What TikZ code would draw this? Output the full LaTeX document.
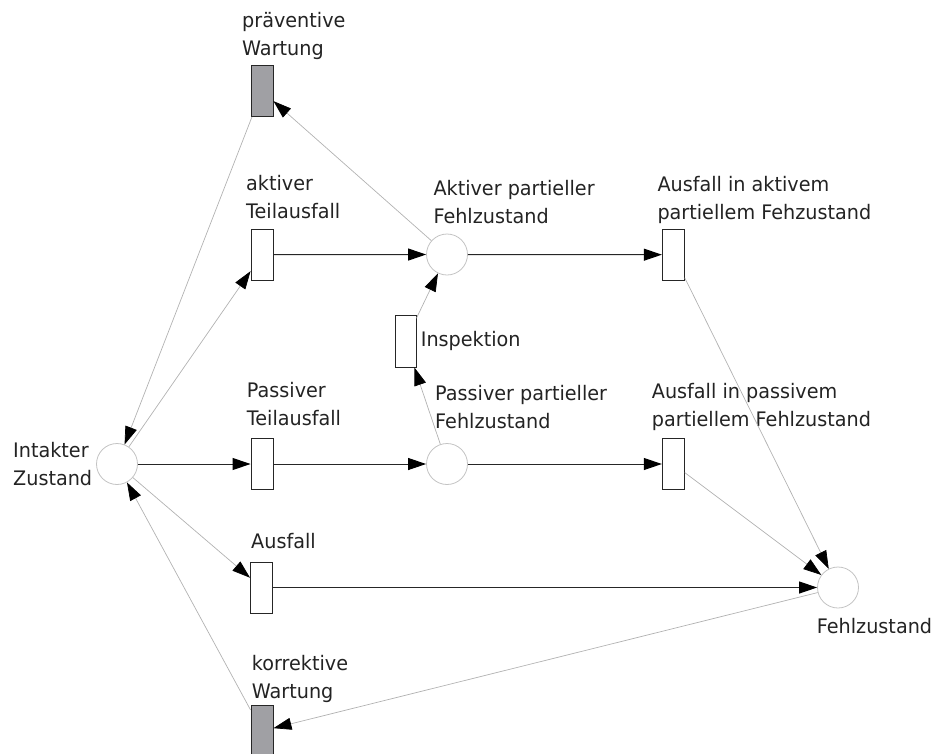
\documentclass[tikz,border=0pt]{standalone}
\usepackage{fontspec}
\setmainfont[FakeStretch=0.96]{DejaVu Sans}
\usetikzlibrary{arrows.meta}

\definecolor{placeline}{RGB}{195,195,195}
\definecolor{arcgray}{RGB}{178,178,178}
\definecolor{maintfill}{RGB}{160,160,164}
\definecolor{labeltext}{RGB}{35,35,35}

\begin{document}
\begin{tikzpicture}[x=1pt,y=-1pt,
  place/.style={circle,draw=placeline,line width=0.8pt,minimum size=41pt,inner sep=0pt},
  trans/.style={rectangle,draw=black!85,line width=0.9pt,minimum width=22pt,minimum height=51pt,inner sep=0pt,fill=white},
  maint/.style={trans,fill=maintfill},
  % anchor "base west" of a two-line label sits on its second baseline
  lbl/.style={anchor=base west,inner sep=0pt,align=left,text=labeltext,font=\fontsize{20}{28}\selectfont},
  arcmain/.style={draw=black!85,line width=1pt,-{Triangle[length=18pt,width=12pt,color=black]}},
  arcthin/.style={draw=arcgray,line width=0.7pt,-{Triangle[length=18pt,width=12pt,color=black]}}]

\useasboundingbox (0,0) rectangle (937,753);
\clip (0,0) rectangle (937,753);

% places
\node[place] (intakt) at (117,464) {};
\node[place] (aktFZ)  at (447,254.5) {};
\node[place] (pasFZ)  at (447,464) {};
\node[place] (fehl)   at (838,587.5) {};

% transitions
\node[maint] (prev)  at (262,91) {};
\node[trans] (aktTA) at (262,254.7) {};
\node[trans] (pasTA) at (262,464) {};
\node[trans] (ausf)  at (261.5,587.5) {};
\node[maint] (korr)  at (262,731) {};
\node[trans,minimum width=21pt,minimum height=52pt] (insp) at (405.5,341) {};
\node[trans] (aAkt)  at (673.3,254.7) {};
\node[trans] (aPas)  at (673.3,464) {};

% labels
\node[lbl] (lprev)   at (242,55.5)   {präventive\\Wartung};
\node[lbl] (laktTA)  at (246,218.3)  {aktiver\\Teilausfall};
\node[lbl] (laktFZ)  at (433.3,223.3){Aktiver partieller\\Fehlzustand};
\node[lbl] (laAkt)   at (657.3,219.3){Ausfall in aktivem\\partiellem Fehzustand};
\node[lbl] (linsp)   at (420.7,346.7){Inspektion};
\node[lbl] (lintakt) at (13,485)     {Intakter\\Zustand};
\node[lbl] (lpasTA)  at (246.7,425.5){Passiver\\Teilausfall};
\node[lbl] (lpasFZ)  at (435,428.3)  {Passiver partieller\\Fehlzustand};
\node[lbl] (laPas)   at (651.7,426.7){Ausfall in passivem\\partiellem Fehlzustand};
\node[lbl] (lausf)   at (251,548.3)  {Ausfall};
\node[lbl] (lfehl)   at (816.7,633.3){Fehlzustand};
\node[lbl] (lkorr)   at (251.7,698.3){korrektive\\Wartung};

% main token flow
\draw[arcmain] (intakt) -- (pasTA);
\draw[arcmain] (pasTA) -- (pasFZ);
\draw[arcmain] (aktTA) -- (aktFZ);
\draw[arcmain] (aktFZ) -- (aAkt);
\draw[arcmain] (pasFZ) -- (aPas);
\draw[arcmain] (ausf) -- (fehl);

% secondary arcs
\draw[arcthin] (intakt) -- (aktTA);
\draw[arcthin] (intakt) -- (ausf);
\draw[arcthin] (prev) -- (intakt);
\draw[arcthin] (aktFZ) -- (prev);
\draw[arcthin] (korr) -- (intakt);
\draw[arcthin] (fehl) -- (korr);
\draw[arcthin] (pasFZ) -- (insp);
\draw[arcthin] (insp) -- (aktFZ);
\draw[arcthin] (aAkt) -- (fehl);
\draw[arcthin] (aPas) -- (fehl);
\end{tikzpicture}
\end{document}
